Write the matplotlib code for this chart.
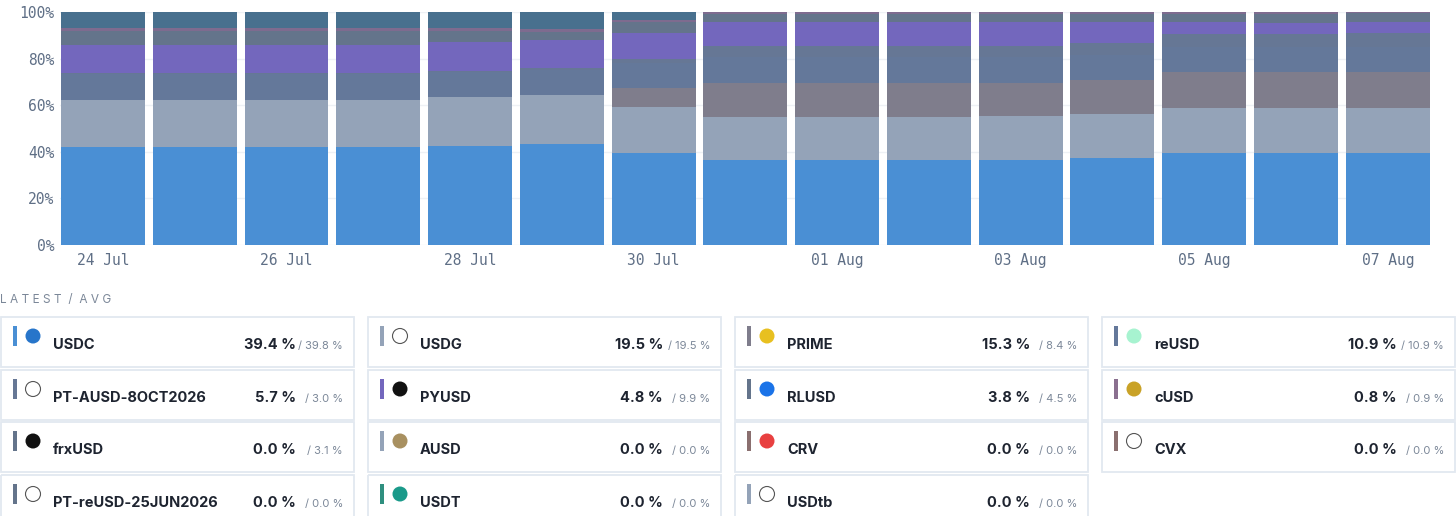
import matplotlib
matplotlib.use("Agg")
import matplotlib.pyplot as plt
from matplotlib.patches import Rectangle, Circle
import numpy as np

dates = ["24 Jul","25 Jul","26 Jul","27 Jul","28 Jul","29 Jul","30 Jul","31 Jul",
         "01 Aug","02 Aug","03 Aug","04 Aug","05 Aug","06 Aug","07 Aug"]
usdc   = [42.2,42.2,42.2,42.2,42.6,43.3,39.6,36.6,36.6,36.6,36.6,37.5,39.5,39.4,39.4]
usdg   = [20.2,20.2,20.2,20.2,20.8,21.1,19.8,18.5,18.5,18.5,18.9,18.9,19.3,19.5,19.5]
prime  = [0,0,0,0,0,0,8.0,14.6,14.6,14.6,14.2,14.4,15.4,15.3,15.3]
reusd  = [10.9]*15
ptausd = [0.7,0.7,0.7,0.7,0.5,0.5,1.5,4.9,4.9,4.9,4.9,5.0,5.5,5.6,5.7]
pyusd  = [11.8,11.8,11.8,11.8,12.3,12.0,11.2,10.1,10.1,10.1,10.1,8.9,5.0,4.7,4.8]
rlusd  = [6.2,6.2,6.2,6.2,4.9,3.5,4.8,3.6,3.6,3.6,3.6,3.6,3.6,3.8,3.8]
cusd   = [1.1,1.1,1.1,1.1,1.0,1.4,0.9,0.8,0.8,0.8,0.8,0.8,0.8,0.8,0.8]
frxusd = [6.9,6.9,6.9,6.9,7.0,7.3,3.3,0.0,0.0,0.0,0.0,0.0,0.0,0.0,0.0]

series = [("USDC",usdc,"#4a8fd4"),("USDG",usdg,"#94a3b8"),("PRIME",prime,"#7f7d8c"),
          ("reUSD",reusd,"#64789a"),("PT-AUSD-8OCT2026",ptausd,"#667795"),
          ("PYUSD",pyusd,"#7367bd"),("RLUSD",rlusd,"#64748b"),("cUSD",cusd,"#7e6b8f"),
          ("frxUSD",frxusd,"#48708e")]

card_names = ["USDC","USDG","PRIME","reUSD","PT-AUSD-8OCT2026","PYUSD","RLUSD","cUSD",
              "frxUSD","AUSD","CRV","CVX","PT-reUSD-25JUN2026","USDT","USDtb"]
card_latest = ["39.4","19.5","15.3","10.9","5.7","4.8","3.8","0.8","0.0","0.0","0.0","0.0","0.0","0.0","0.0"]
card_avg = ["39.8","19.5","8.4","10.9","3.0","9.9","4.5","0.9","3.1","0.0","0.0","0.0","0.0","0.0","0.0"]
card_colors = ["#4a8fd4","#94a3b8","#7f7d8c","#64789a","#667795","#7367bd","#64748b","#8a6f8f",
               "#64748b","#94a3b8","#8a6f6f","#8a6f6f","#64748b","#2f8f7f","#94a3b8"]
icon_colors = ["#2775ca","#ffffff","#e8c020","#a7f3d0","#ffffff","#111111","#1a73e8","#c9a227",
               "#111111","#a89060","#e84040","#ffffff","#ffffff","#1a9a8a","#ffffff"]

W, H = 1456, 516
fig = plt.figure(figsize=(W/100, H/100), dpi=100)
ax = fig.add_axes([60/W, 1-245/H, 1370/W, 233/H])
x = np.arange(len(dates))
bottom = np.zeros(len(dates))
for name, vals, col in series:
    v = np.array(vals)
    ax.bar(x, v, bottom=bottom, width=0.915, color=col, edgecolor="none", zorder=2)
    bottom += v
ax.set_xlim(-0.468, 14.46)
ax.set_ylim(0, 100)
ax.set_yticks([0,20,40,60,80,100])
ax.set_yticklabels([f"{t}%" for t in [0,20,40,60,80,100]], family="DejaVu Sans Mono")
ax.set_xticks(x[::2])
ax.set_xticklabels(dates[::2], family="DejaVu Sans Mono")
ax.tick_params(length=0, labelsize=10.5, colors="#5f6f86", pad=4)
ax.tick_params(axis="x", pad=6)
for s in ax.spines.values():
    s.set_visible(False)
ax.grid(axis="y", color="#eef1f5", lw=1, zorder=0)

ov = fig.add_axes([0,0,1,1], zorder=-1 if False else 5)
ov.set_xlim(0, W); ov.set_ylim(H, 0); ov.axis("off")
ov.text(0, 300, "L A T E S T  /  A V G", fontsize=8.5, color="#7b8798", va="center", family="Inter")
colx = [0, 367, 734, 1101]
rowy = [317, 370, 422, 475]
for i, nm in enumerate(card_names):
    r, c = divmod(i, 4)
    x0, y0 = colx[c], rowy[r]
    ov.add_patch(Rectangle((x0+1, y0), 353, 50, fill=False, ec="#e2e8f0", lw=1.3))
    ov.add_patch(Rectangle((x0+13, y0+9), 3.5, 20, color=card_colors[i], lw=0))
    ov.add_patch(Circle((x0+33, y0+19), 7.5, fc=icon_colors[i], ec="#555" if icon_colors[i]=="#ffffff" else "none", lw=0.8))
    ov.text(x0+53, y0+28, nm, fontsize=10.5, weight="bold", color="#1e2430", va="center", family="Inter")
    ov.text(x0+296, y0+28, f"{card_latest[i]} %", fontsize=10.5, weight="bold", color="#1e2430",
            va="center", ha="right", family="Inter")
    ov.text(x0+343, y0+29, f"/ {card_avg[i]} %", fontsize=8, color="#7b8798",
            va="center", ha="right", family="Inter")

fig.savefig("out.png", dpi=100, facecolor="white")
